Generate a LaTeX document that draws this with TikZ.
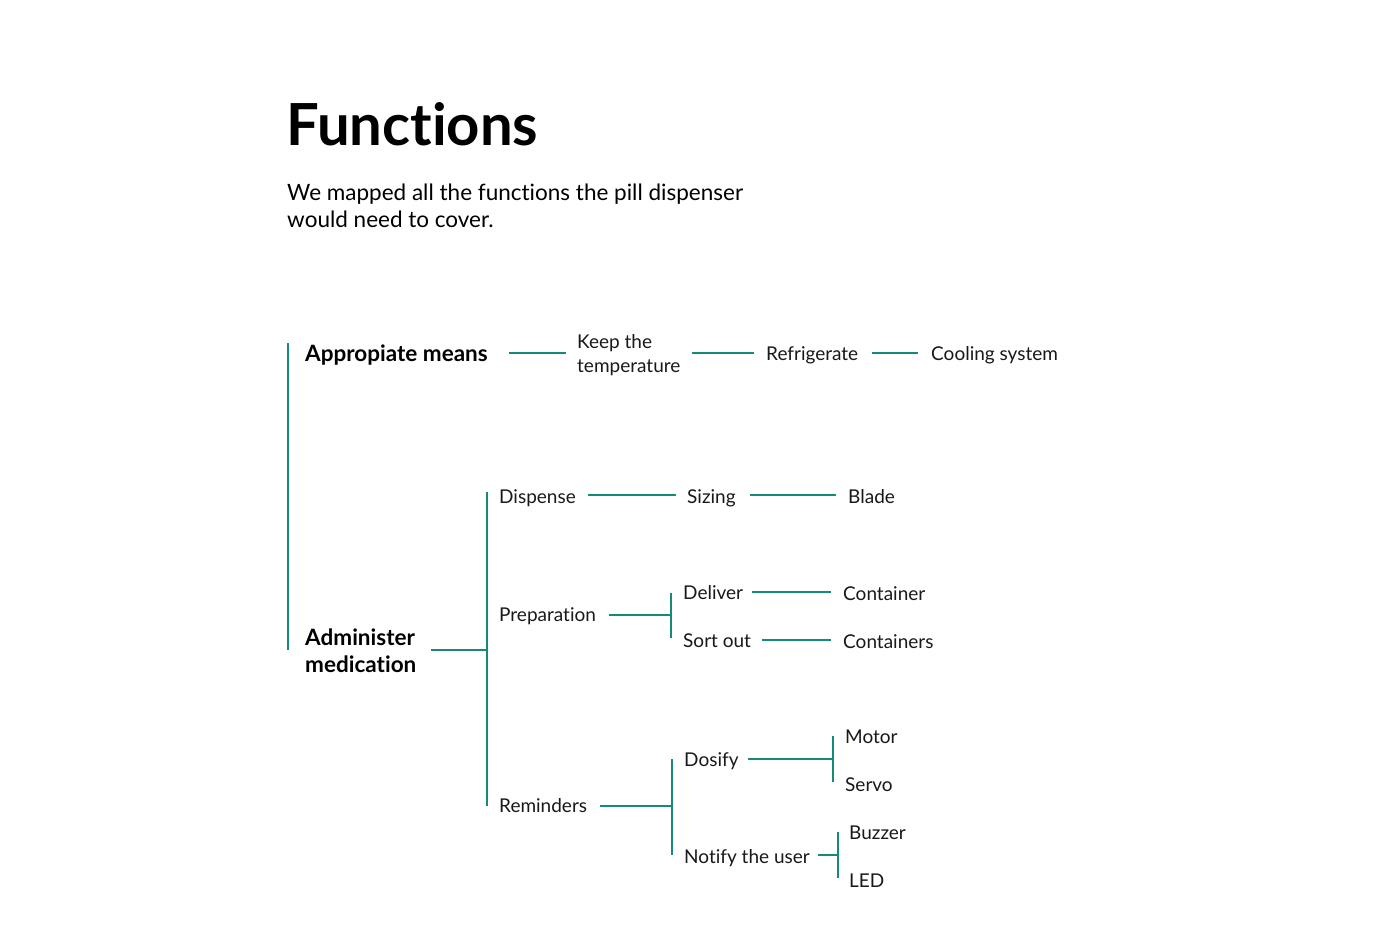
\documentclass[tikz,border=0pt]{standalone}
\usepackage{fontspec}
\setmainfont{Lato}[Ligatures={NoCommon,NoRare,NoContextual}]
\definecolor{teal}{RGB}{22,138,122}
\begin{document}
\begin{tikzpicture}[x=1pt,y=-1pt,
  lbl/.style={anchor=base west,inner sep=0pt,font=\fontsize{19}{24}\selectfont,text=black!90},
  blbl/.style={anchor=base west,inner sep=0pt,font=\fontsize{22.5}{27}\selectfont\bfseries,text=black},
  conn/.style={draw=teal,line width=1.6pt},
  trunk/.style={draw=teal,line width=2.6pt}]
\useasboundingbox (0,0) rectangle (1400,952);
\fill[white] (0,0) rectangle (1400,952);
% title
\node[anchor=base west,inner sep=0pt,font=\fontsize{58}{60}\selectfont\bfseries] (title) at (286,146) {Functions};
\node[anchor=base west,inner sep=0pt,align=left,font=\fontsize{22.5}{28}\selectfont] (sub) at (287,228) {We mapped all the functions the pill dispenser\\would need to cover.};
% labels
\node[blbl] (app) at (305,361) {Appropiate means};
\node[lbl,align=left] (keep) at (577,372) {Keep the\\temperature};
\node[lbl] (refr) at (766,360) {Refrigerate};
\node[lbl] (cool) at (931,360) {Cooling system};
\node[blbl,align=left] (adm) at (305,672) {Administer\\medication};
\node[lbl] (disp) at (499,503) {Dispense};
\node[lbl] (siz) at (687,503) {Sizing};
\node[lbl] (blade) at (848,503) {Blade};
\node[lbl] (prep) at (499,621) {Preparation};
\node[lbl] (deliv) at (683,599) {Deliver};
\node[lbl] (cont) at (843,600) {Container};
\node[lbl] (sort) at (683,647) {Sort out};
\node[lbl] (conts) at (843,648) {Containers};
\node[lbl] (rem) at (499,812) {Reminders};
\node[lbl] (dos) at (684,766) {Dosify};
\node[lbl] (motor) at (845,743) {Motor};
\node[lbl] (servo) at (845,791) {Servo};
\node[lbl] (notif) at (684,863) {Notify the user};
\node[lbl] (buzz) at (849,839) {Buzzer};
\node[lbl] (led) at (849,887) {LED};
% coordinates
\coordinate (t0a) at (288,343); \coordinate (t0b) at (288,650);
\coordinate (a1) at (509,353); \coordinate (a2) at (566,353);
\coordinate (k1) at (692,353); \coordinate (k2) at (754,353);
\coordinate (r1) at (872,353); \coordinate (r2) at (918,353);
\coordinate (m1) at (431,650); \coordinate (m2) at (487,650);
\coordinate (t1a) at (487,492); \coordinate (t1b) at (487,806);
\coordinate (d1) at (588,495); \coordinate (d2) at (676,495);
\coordinate (s1) at (750,495); \coordinate (s2) at (836,495);
\coordinate (p1) at (609,615); \coordinate (p2) at (671,615);
\coordinate (t2a) at (671,593); \coordinate (t2b) at (671,638);
\coordinate (dl1) at (752,592); \coordinate (dl2) at (831,592);
\coordinate (so1) at (762,640); \coordinate (so2) at (831,640);
\coordinate (re1) at (600,806); \coordinate (re2) at (672,806);
\coordinate (t3a) at (672,759); \coordinate (t3b) at (672,855);
\coordinate (do1) at (748,759); \coordinate (do2) at (833,759);
\coordinate (t4a) at (833,736); \coordinate (t4b) at (833,782);
\coordinate (n1) at (818,855); \coordinate (n2) at (838,855);
\coordinate (t5a) at (838,832); \coordinate (t5b) at (838,878);
% connectors
\draw[trunk] (t0a) -- (t0b);
\draw[conn] (a1) -- (a2);
\draw[conn] (k1) -- (k2);
\draw[conn] (r1) -- (r2);
\draw[conn] (m1) -- (m2);
\draw[conn] (t1a) -- (t1b);
\draw[conn] (d1) -- (d2);
\draw[conn] (s1) -- (s2);
\draw[conn] (p1) -- (p2);
\draw[conn] (t2a) -- (t2b);
\draw[conn] (dl1) -- (dl2);
\draw[conn] (so1) -- (so2);
\draw[conn] (re1) -- (re2);
\draw[conn] (t3a) -- (t3b);
\draw[conn] (do1) -- (do2);
\draw[conn] (t4a) -- (t4b);
\draw[conn] (n1) -- (n2);
\draw[conn] (t5a) -- (t5b);
\end{tikzpicture}
\end{document}
